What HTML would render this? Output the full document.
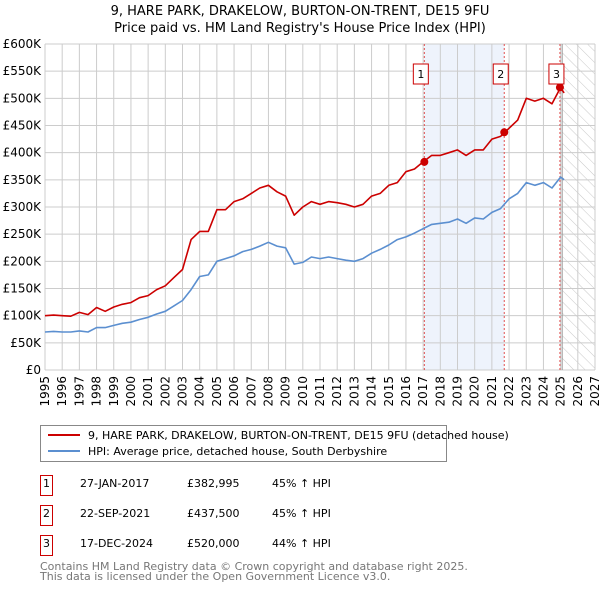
<!DOCTYPE html>
<html><head><meta charset="utf-8">
<style>
body{margin:0;background:#fff;font-family:"Liberation Sans","DejaVu Sans",sans-serif;}
svg text{font-family:"DejaVu Sans","Liberation Sans",sans-serif;}
</style></head>
<body>
<svg id="chart" width="600" height="590" xmlns="http://www.w3.org/2000/svg">
<defs>
<pattern id="hatch" width="8" height="8" patternUnits="userSpaceOnUse" patternTransform="rotate(-45)">
<line x1="0" y1="0" x2="0" y2="8" stroke="#c8c8c8" stroke-width="1"/>
</pattern>
</defs>
<text x="300" y="15" text-anchor="middle" font-size="13" fill="#000">9, HARE PARK, DRAKELOW, BURTON-ON-TRENT, DE15 9FU</text>
<text x="300" y="32" text-anchor="middle" font-size="13" fill="#000">Price paid vs. HM Land Registry's House Price Index (HPI)</text>
<g id="grid"></g>
<g id="series"></g>
<g id="legend">
<rect x="40.5" y="425.5" width="406" height="36" fill="#fff" stroke="#888"/>
<line x1="48" y1="435" x2="80" y2="435" stroke="#cc0000" stroke-width="2"/>
<text x="88" y="439" font-size="11">9, HARE PARK, DRAKELOW, BURTON-ON-TRENT, DE15 9FU (detached house)</text>
<line x1="48" y1="451" x2="80" y2="451" stroke="#5b8fd0" stroke-width="2"/>
<text x="88" y="455" font-size="11">HPI: Average price, detached house, South Derbyshire</text>
</g>
<g id="table" font-size="11"></g>
<text x="40" y="570" font-size="11" fill="#777">Contains HM Land Registry data © Crown copyright and database right 2025.</text>
<text x="40" y="580" font-size="11" fill="#777">This data is licensed under the Open Government Licence v3.0.</text>
</svg>
<script>
const years=[1995,1995.5,1996,1996.5,1997,1997.5,1998,1998.5,1999,1999.5,2000,2000.5,2001,2001.5,2002,2002.5,2003,2003.5,2004,2004.5,2005,2005.5,2006,2006.5,2007,2007.5,2008,2008.5,2009,2009.5,2010,2010.5,2011,2011.5,2012,2012.5,2013,2013.5,2014,2014.5,2015,2015.5,2016,2016.5,2017,2017.5,2018,2018.5,2019,2019.5,2020,2020.5,2021,2021.5,2022,2022.5,2023,2023.5,2024,2024.5,2025,2025.2];
const propertyValues=[100,101,100,99,106,102,115,108,116,121,124,133,137,148,155,170,185,240,255,255,295,295,310,315,325,335,340,328,320,285,300,310,305,310,308,305,300,305,320,325,340,345,365,370,383,395,395,400,405,395,405,405,425,430,445,460,500,495,500,490,520,510];
const hpiValues=[70,71,70,70,72,70,78,78,82,86,88,93,97,103,108,118,128,148,172,175,200,205,210,218,222,228,235,228,225,195,198,208,205,208,205,202,200,205,215,222,230,240,245,252,260,268,270,272,278,270,280,278,290,297,315,325,345,340,345,335,355,350];
const yTicks=[0,50,100,150,200,250,300,350,400,450,500,550,600];
const yTickLabels=["£0","£50K","£100K","£150K","£200K","£250K","£300K","£350K","£400K","£450K","£500K","£550K","£600K"];
const xTicks=[1995,1996,1997,1998,1999,2000,2001,2002,2003,2004,2005,2006,2007,2008,2009,2010,2011,2012,2013,2014,2015,2016,2017,2018,2019,2020,2021,2022,2023,2024,2025,2026,2027];
const saleLabels=["1","2","3"];
const saleYears=[2017.07,2021.72,2024.96];
const salePrices=[382.995,437.5,520];
const saleDates=["27-JAN-2017","22-SEP-2021","17-DEC-2024"];
const salePriceText=["£382,995","£437,500","£520,000"];
const saleHpiText=["45% ↑ HPI","45% ↑ HPI","44% ↑ HPI"];
const dataEnd=2025.09;

const X0=45,X1=595,Y0=370,Y1=44;
const xs=y=>X0+(y-1995)*(X1-X0)/32;
const ys=v=>Y0-v*(Y0-Y1)/600;
const NS="http://www.w3.org/2000/svg";
function mk(tag,attrs,parent){const e=document.createElementNS(NS,tag);for(const k in attrs)e.setAttribute(k,attrs[k]);parent.appendChild(e);return e;}
const grid=document.getElementById('grid');
const ser=document.getElementById('series');
let band=mk('rect',{x:xs(saleYears[0]),y:Y1,width:xs(saleYears[1])-xs(saleYears[0]),height:Y0-Y1,fill:'#eef3fc'},grid);


let hatch=mk('rect',{x:xs(dataEnd),y:Y1,width:X1-xs(dataEnd),height:Y0-Y1,fill:'url(#hatch)'},grid);


yTicks.forEach((t,i)=>{
 let l=mk('line',{x1:X0,x2:X1,y1:ys(t),y2:ys(t),stroke:'#cccccc'},grid);
 
 
 let tx=mk('text',{x:X0-4,y:ys(t)+4,'text-anchor':'end','font-size':12},grid);
 tx.textContent=yTickLabels[i];
 
 
});
xTicks.forEach(t=>{
 let l=mk('line',{x1:xs(t),x2:xs(t),y1:Y1,y2:Y0,stroke:'#cccccc'},grid);
 
 
 let tx=mk('text',{x:0,y:0,'font-size':12,'text-anchor':'end',transform:`translate(${xs(t)+4},${Y0+6}) rotate(-90)`},grid);
 tx.textContent=t;
 
 
});
let endl=mk('line',{x1:xs(dataEnd),x2:xs(dataEnd),y1:Y1,y2:Y0,stroke:'#999'},grid);


saleYears.forEach((sy,i)=>{
 let l=mk('line',{x1:xs(sy),x2:xs(sy),y1:Y1,y2:Y0,stroke:'#e05050','stroke-dasharray':'2,2'},grid);
 
 
});
function path(vals,color,name){
 const d=vals.map((v,i)=>(i?'L':'M')+xs(years[i]).toFixed(1)+','+ys(v).toFixed(1)).join('');
 const p=mk('path',{d:d,fill:'none',stroke:color,'stroke-width':1.6,'stroke-linejoin':'round'},ser);
 
 
}
path(hpiValues,'#5b8fd0','hpi-line');
path(propertyValues,'#cc0000','property-line');
saleYears.forEach((sy,i)=>{
 let c=mk('circle',{cx:xs(sy),cy:ys(salePrices[i]),r:4,fill:'#cc0000'},ser);
 
 
 let r=mk('rect',{x:xs(sy)-11,y:64,width:15,height:20,fill:'#fff',stroke:'#cc0000'},ser);
 
 
 let t=mk('text',{x:xs(sy)-3.5,y:78,'text-anchor':'middle','font-size':11},ser);
 t.textContent=saleLabels[i];
 
 
});
const tb=document.getElementById('table');
saleLabels.forEach((s,i)=>{
 const y=483+i*30;
 let r=mk('rect',{x:40.5,y:y-7.5,width:12,height:20,fill:'#fff',stroke:'#cc0000'},tb);
 
 
 const cells=[[46.5,s,'middle'],[80,saleDates[i],'start'],[187,salePriceText[i],'start'],[272,saleHpiText[i],'start']];
 cells.forEach(c=>{
  let t=mk('text',{x:c[0],y:y+4,'text-anchor':c[2]},tb);
  t.textContent=c[1];
  
  
 });
});
</script>
</body></html>
